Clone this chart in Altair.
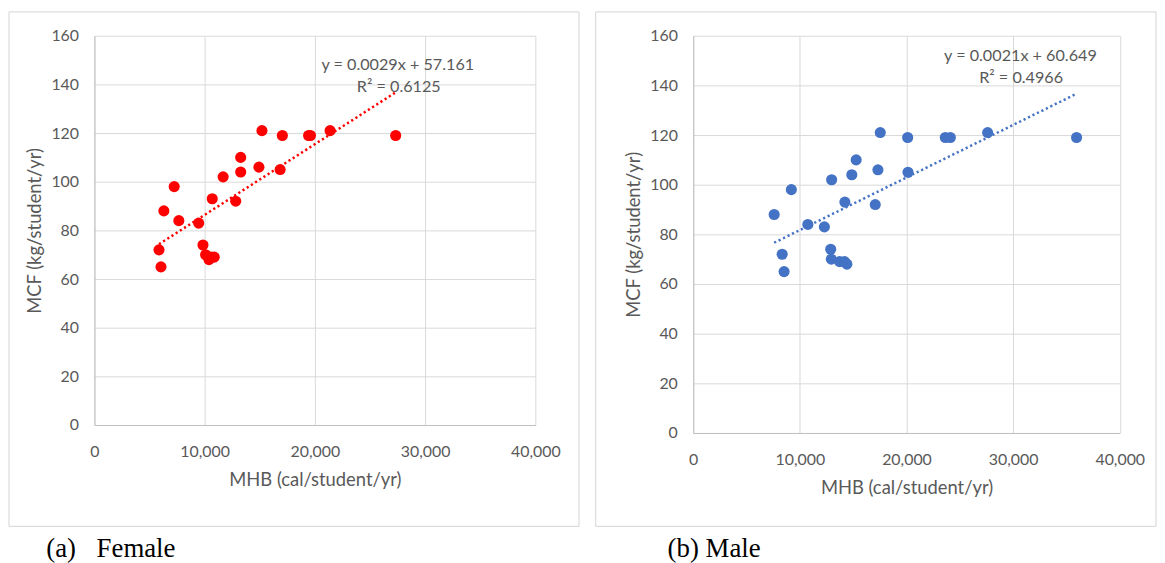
import altair as alt
import pandas as pd

# ---------------- data ----------------
female_mhb = [15200, 17050, 19430, 19600, 21380, 27330, 13270, 13270, 14925, 16850,
              11680, 7240, 10690, 12820, 6300, 7660, 9460, 5860, 6040, 9850,
              10090, 10390, 10600, 10870]
female_mcf = [121, 119, 119, 119, 121, 119, 110, 104, 106, 105,
              102, 98, 93, 92, 88, 84, 83, 72, 65, 74,
              70, 68, 69, 69]

male_mhb = [17540, 20110, 23640, 24110, 27610, 35950, 15280, 17320, 20140, 14870,
            12980, 9200, 14220, 17070, 7590, 10750, 12300, 8340, 8520, 12890,
            12950, 13730, 14190, 14410]
male_mcf = [121, 119, 119, 119, 121, 119, 110, 106, 105, 104,
            102, 98, 93, 92, 88, 84, 83, 72, 65, 74,
            70, 69, 69, 68]

x_ticks = [0, 10000, 20000, 30000, 40000]
y_ticks = [0, 20, 40, 60, 80, 100, 120, 140, 160]

female_eq = ["y = 0.0029x + 57.161", "R\u00b2 = 0.6125"]
male_eq = ["y = 0.0021x + 60.649", "R\u00b2 = 0.4966"]

x_title = "MHB (cal/student/yr)"
y_title = "MCF (kg/student/yr)"

FONT = "Lato"
GRAY_TXT = "#595959"
GRID = "#d9d9d9"
BORDER = "#d4d4d4"


def panel(mhb, mcf, color, w, h, eq, eq_pos, rect, captions):
    df = pd.DataFrame({"MHB": mhb, "MCF": mcf})
    one = pd.DataFrame({"k": [0]})

    x_enc = alt.X(
        "MHB:Q",
        scale=alt.Scale(domain=[0, 40000], nice=False, zero=True),
        axis=alt.Axis(
            values=x_ticks, format=",.0f", title=x_title,
            grid=True, gridColor=GRID, gridWidth=1,
            domain=True, domainColor="#bfbfbf", domainWidth=1,
            ticks=False, tickSize=0, labelPadding=18.5,
            labelFlush=False, labelOverlap=False,
            labelFont=FONT, labelFontSize=16, labelColor=GRAY_TXT,
            titleFont=FONT, titleFontSize=18.5, titleColor=GRAY_TXT,
            titleFontWeight="normal", titleX=w / 2, titleY=54.5,
            titleBaseline="middle", titleAlign="center",
        ),
    )
    y_enc = alt.Y(
        "MCF:Q",
        scale=alt.Scale(domain=[0, 160], nice=False, zero=True),
        axis=alt.Axis(
            values=y_ticks, format=".0f", title=y_title,
            grid=True, gridColor=GRID, gridWidth=1,
            domain=True, domainColor="#bfbfbf", domainWidth=1,
            ticks=False, tickSize=0, labelPadding=16,
            labelFlush=False, labelOverlap=False,
            labelFont=FONT, labelFontSize=16, labelColor=GRAY_TXT,
            titleFont=FONT, titleFontSize=18.5, titleColor=GRAY_TXT,
            titleFontWeight="normal", titleX=-60, titleY=h / 2,
            titleBaseline="middle", titleAlign="center", titleAngle=270,
        ),
    )

    border = alt.Chart(one).mark_rect(
        fill="transparent", stroke=BORDER, strokeWidth=1
    ).encode(
        x=alt.value(rect[0]), x2=alt.value(rect[1]),
        y=alt.value(rect[2]), y2=alt.value(rect[3]),
    )

    points = alt.Chart(df).mark_circle(size=125, color=color, opacity=1).encode(
        x=x_enc, y=y_enc
    )

    trend = alt.Chart(df).transform_regression("MHB", "MCF").mark_line(
        color=color, strokeDash=[2.2, 2.8], strokeWidth=2.5
    ).encode(x="MHB:Q", y="MCF:Q")

    eq1 = alt.Chart(one).mark_text(
        text=eq[0], font=FONT, fontSize=16.3, color=GRAY_TXT,
        align="center", baseline="middle",
    ).encode(x=alt.value(eq_pos[0][0]), y=alt.value(eq_pos[0][1]))
    eq2 = alt.Chart(one).mark_text(
        text=eq[1], font=FONT, fontSize=16.3, color=GRAY_TXT,
        align="center", baseline="middle",
    ).encode(x=alt.value(eq_pos[1][0]), y=alt.value(eq_pos[1][1]))

    caps = []
    for txt, cx, cy in captions:
        caps.append(
            alt.Chart(one).mark_text(
                text=txt, font="Liberation Serif", fontSize=27, color="#000000",
                align="left", baseline="alphabetic",
            ).encode(x=alt.value(cx), y=alt.value(cy))
        )

    return alt.layer(border, points, trend, eq1, eq2, *caps).properties(
        width=w, height=h
    )


female = panel(
    female_mhb, female_mcf, "#ff0000", 444, 392, female_eq,
    [(305.5, 29), (306.5, 51.5)],
    (-86, 488, -24, 494),
    [("(a)", -48.5, 524.5), ("Female", 2.2, 524.5)],
)

male = panel(
    male_mhb, male_mcf, "#4472c4", 429.5, 400, male_eq,
    [(329.5, 20.5), (330.2, 43)],
    (-98.2, 466, -24, 494),
    [("(b) Male", -25.8, 524.5)],
)

chart = alt.hconcat(female, male, spacing=159, bounds="flush").configure_view(
    stroke="transparent"
).properties(
    padding={"left": 0, "top": 1, "right": 0, "bottom": 0},
    background="white",
)

chart.save("out.html", embed_options={"renderer": "svg", "actions": False})
